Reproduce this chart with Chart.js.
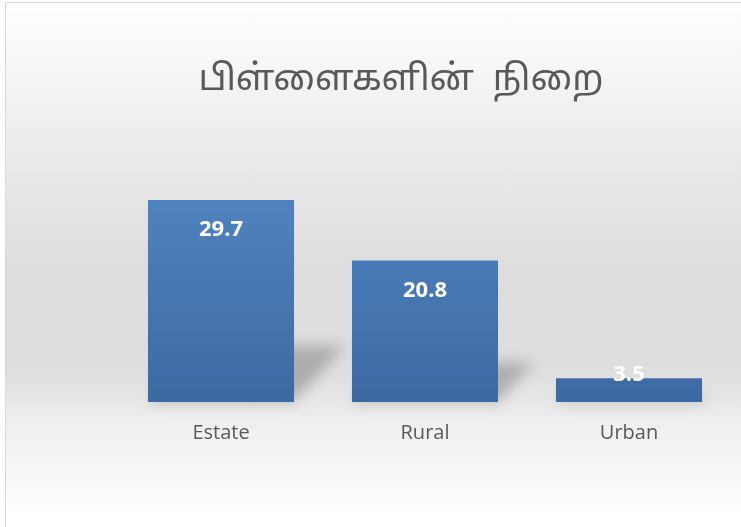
<!DOCTYPE html>
<html>
<head>
<meta charset="utf-8">
<script src="https://cdn.jsdelivr.net/npm/chart.js@4.4.1/dist/chart.umd.min.js"></script>
<style>
  html, body { margin: 0; padding: 0; background: #ffffff; }
  #frame {
    position: absolute; left: 5px; top: 2px; width: 745px; height: 535px;
    border: 1px solid #d9d9d9;
    background: linear-gradient(to bottom, #ffffff 0px, #ececec 140px, #dedede 260px, #dedede 370px, #efefef 420px, #ffffff 515px);
  }
  #wrap { position: absolute; left: 0; top: 0; width: 741px; height: 527px; }
</style>
</head>
<body>
<div id="frame"></div>
<div id="wrap"><canvas id="c" width="741" height="527"></canvas></div>
<script>
const titleText = "பிள்ளைகளின்  நிறை";
const categories = ["Estate", "Rural", "Urban"];
const values = [29.7, 20.8, 3.5];

const shadowPlugin = {
  id: 'barShadow',
  beforeDatasetsDraw(chart) {
    const ctx = chart.ctx;
    const meta = chart.getDatasetMeta(0);
    meta.data.forEach(bar => {
      const left = bar.x - bar.width / 2, right = bar.x + bar.width / 2;
      const top = bar.y, base = bar.base;
      const h = base - top;
      const dx = h * 0.25, dy = h * 0.28;
      ctx.save();
      ctx.filter = 'blur(7px)';
      ctx.fillStyle = 'rgba(0,0,0,0.22)';
      ctx.beginPath();
      ctx.moveTo(left, base);
      ctx.lineTo(right, base);
      ctx.lineTo(right + dx, base - dy);
      ctx.lineTo(left + dx, base - dy);
      ctx.closePath();
      ctx.fill();
      ctx.restore();
    });
  }
};

const labelPlugin = {
  id: 'barLabels',
  afterDatasetsDraw(chart) {
    const ctx = chart.ctx;
    const meta = chart.getDatasetMeta(0);
    ctx.save();
    ctx.font = 'bold 22px "Open Sans"';
    ctx.fillStyle = '#ffffff';
    ctx.textAlign = 'center';
    ctx.textBaseline = 'middle';
    meta.data.forEach((bar, i) => {
      const y = Math.min(bar.y + 30, bar.base - 27);
      ctx.fillText(String(values[i]), bar.x, y);
    });
    ctx.restore();
  }
};

const titlePlugin = {
  id: 'customTitle',
  afterDraw(chart) {
    const ctx = chart.ctx;
    ctx.save();
    ctx.font = '36px "Noto Sans Tamil", "Lohit Tamil", "Latha", "Noto Sans", sans-serif';
    ctx.fillStyle = '#595959';
    ctx.textAlign = 'center';
    ctx.textBaseline = 'alphabetic';
    ctx.fillText(titleText, 401, 90);
    ctx.restore();
  }
};

new Chart(document.getElementById('c'), {
  type: 'bar',
  data: {
    labels: categories,
    datasets: [{
      data: values,
      backgroundColor(context) {
        const chart = context.chart;
        const area = chart.chartArea;
        if (!area) return '#4a7ab5';
        const g = chart.ctx.createLinearGradient(0, area.top, 0, area.bottom);
        g.addColorStop(0, '#5286c3');
        g.addColorStop(0.27, '#4f82be');
        g.addColorStop(1, '#3d69a2');
        return g;
      },
      borderWidth: 0,
      barPercentage: 0.716,
      categoryPercentage: 1.0
    }]
  },
  options: {
    responsive: false,
    animation: false,
    layout: { padding: { left: 119, right: 10, top: 130, bottom: 0 } },
    plugins: { legend: { display: false }, tooltip: { enabled: false }, title: { display: false } },
    scales: {
      y: { display: false, min: 0, max: 40 },
      x: {
        grid: { display: false, drawTicks: false },
        border: { display: false },
        ticks: { color: '#595959', font: { family: 'Open Sans', size: 20 }, padding: 19 },
        afterFit(scale) { scale.height = 125; }
      }
    }
  },
  plugins: [shadowPlugin, labelPlugin, titlePlugin]
});
</script>
</body>
</html>
